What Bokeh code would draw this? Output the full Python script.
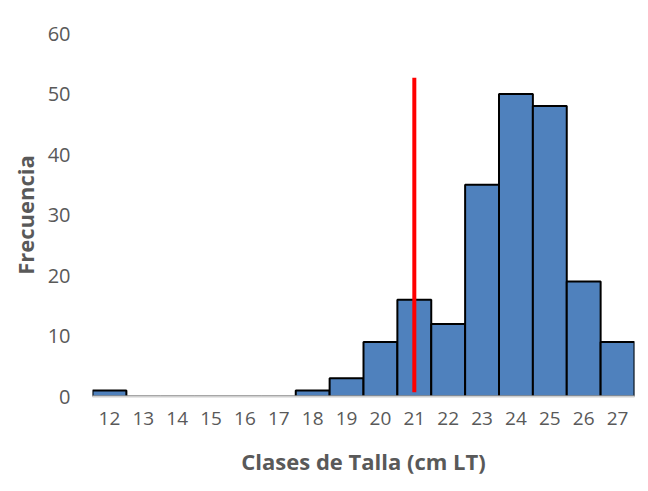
from bokeh.plotting import figure
from bokeh.models import FactorRange, Range1d, FixedTicker
from bokeh.embed import file_html
from bokeh.resources import INLINE

clases = ["12", "13", "14", "15", "16", "17", "18", "19", "20", "21", "22", "23", "24", "25", "26", "27"]
frecuencia = [1, 0, 0, 0, 0, 0, 1, 3, 9, 16, 12, 35, 50, 48, 19, 9]
linea_x = ["21", "21"]
linea_y = [0.7, 52.7]
y_ticks = [0, 10, 20, 30, 40, 50, 60]

FONT = "Open Sans"
GRAY = "#595959"

p = figure(width=640, height=483, x_range=FactorRange(*clases, range_padding=0),
           y_range=Range1d(0, 60), output_backend="svg", toolbar_location=None,
           min_border_left=92, min_border_right=6, min_border_top=33, min_border_bottom=87)

p.vbar(x=clases, top=frecuencia, width=1.0, fill_color="#4F81BD",
       line_color="black", line_width=2)
p.line(x=linea_x, y=linea_y, line_color="#FF0000", line_width=4)

p.outline_line_color = None
p.xgrid.grid_line_color = None
p.ygrid.grid_line_color = None
p.background_fill_color = "white"
p.border_fill_color = "white"

p.yaxis.ticker = FixedTicker(ticks=y_ticks)
p.yaxis.axis_line_color = None
p.yaxis.major_tick_line_color = None
p.yaxis.minor_tick_line_color = None
p.yaxis.major_tick_out = 0
p.yaxis.major_label_standoff = 22
p.yaxis.major_label_text_font_size = "20px"
p.yaxis.axis_label = "Frecuencia"
p.yaxis.axis_label_standoff = 5

p.xaxis.axis_line_color = "#D0D0D0"
p.xaxis.axis_line_width = 2
p.xaxis.major_tick_line_color = None
p.xaxis.major_tick_out = 0
p.xaxis.major_label_standoff = 15
p.xaxis.major_label_text_font_size = "19px"
p.xaxis.axis_label = "Clases de Talla (cm LT)"
p.xaxis.axis_label_standoff = 18

for ax in (p.xaxis, p.yaxis):
    ax.major_label_text_font = FONT
    ax.major_label_text_color = GRAY
    ax.axis_label_text_font = FONT
    ax.axis_label_text_font_size = "22px"
    ax.axis_label_text_font_style = "bold"
    ax.axis_label_text_color = GRAY

open("out.html", "w").write(file_html(p, INLINE))
